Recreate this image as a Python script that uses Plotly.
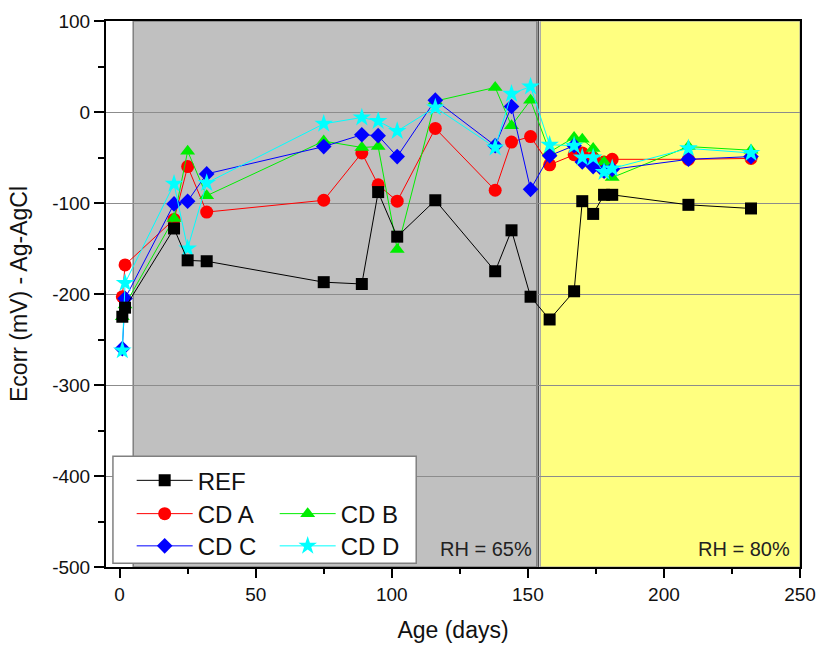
import plotly.graph_objects as go

# ---- data ----
age_days = [1, 2, 20, 25, 32, 75, 89, 95, 102, 116, 138, 144, 151, 158, 167, 170, 174, 178, 181, 209, 232]
ref_mv = [-225, -215, -128, -163, -164, -187, -189, -88, -137, -97, -175, -130, -203, -228, -197, -98, -112, -91, -91, -102, -106]
cd_a_mv = [-203, -168, -118, -60, -110, -97, -45, -80, -98, -18, -86, -33, -27, -58, -47, -45, -50, -55, -52, -52, -51]
cd_b_mv = [-225, -212, -117, -43, -92, -32, -39, -38, -151, 12, 27, -15, 13, -44, -28, -30, -40, -55, -72, -38, -42]
cd_c_mv = [-260, -205, -101, -98, -68, -38, -25, -26, -49, 13, -37, 6, -85, -48, -37, -55, -60, -65, -63, -52, -49]
cd_d_mv = [-262, -188, -79, -150, -78, -13, -6, -10, -21, 5, -39, 20, 28, -36, -37, -50, -50, -66, -62, -40, -45]

x_ticks = [0, 50, 100, 150, 200, 250]
y_ticks = [-500, -400, -300, -200, -100, 0, 100]
y_tick_labels = [str(v) for v in y_ticks]
rh65_span = [5, 153.3]
rh80_span = [154.6, 250]
rh_labels = ["RH = 65%", "RH = 80%"]

FONT = "Liberation Sans, Arial, sans-serif"

series = [
    ("CD A", cd_a_mv, "#FF0000", "circle", 13, "legend2"),
    ("CD B", cd_b_mv, "#00EE00", "triangle-up", 13, "legend2"),
    ("CD C", cd_c_mv, "#0000FF", "diamond", 12, "legend3"),
    ("CD D", cd_d_mv, "#00FFFF", "star", 14, "legend3"),
    ("REF", ref_mv, "#000000", "square", 12, "legend"),
]

fig = go.Figure()
for name, vals, col, sym, sz, lg in series:
    fig.add_trace(go.Scatter(
        x=age_days, y=vals, name=name, mode="lines+markers",
        line=dict(color=col, width=1),
        marker=dict(symbol=sym, size=sz, color=col, line=dict(width=0)),
        legend=lg, showlegend=True,
    ))

shapes = [
    dict(type="rect", xref="x", yref="y", x0=rh65_span[0], x1=rh65_span[1], y0=-500, y1=100,
         fillcolor="#C0C0C0", line=dict(color="#808080", width=1.5), layer="below"),
    dict(type="rect", xref="x", yref="y", x0=rh80_span[0], x1=rh80_span[1], y0=-500, y1=100,
         fillcolor="#FFFF80", line=dict(color="#A0A0A0", width=1), layer="below"),
    dict(type="line", xref="x", yref="y", x0=153.9, x1=153.9, y0=-500, y1=100,
         line=dict(color="#505050", width=1.5), layer="below"),
    # legend box
    dict(type="rect", xref="paper", yref="paper", x0=0.010, x1=0.447, y0=0.007, y1=0.203,
         fillcolor="white", line=dict(color="#808080", width=1.5), layer="above"),
]

annotations = [
    dict(x=rh65_span[1] - 1, y=-500, xref="x", yref="y", text=rh_labels[0], showarrow=False,
         xanchor="right", yanchor="bottom", yshift=5, font=dict(family=FONT, size=20, color="#222")),
    dict(x=rh80_span[1] - 3, y=-500, xref="x", yref="y", text=rh_labels[1], showarrow=False,
         xanchor="right", yanchor="bottom", yshift=5, font=dict(family=FONT, size=20, color="#222")),
]

legend_common = dict(bgcolor="rgba(0,0,0,0)", borderwidth=0, font=dict(family=FONT, size=24, color="#111"),
                     xanchor="left", yanchor="middle", itemwidth=56, tracegroupgap=0, visible=True)

fig.update_layout(
    width=821, height=650,
    margin=dict(l=106, r=21, t=21, b=83, autoexpand=False),
    plot_bgcolor="white", paper_bgcolor="white",
    showlegend=True,
    font=dict(family=FONT, size=19, color="#111"),
    shapes=shapes, annotations=annotations,
    legend=dict(x=0.037, y=0.158, **legend_common),
    legend2=dict(x=0.037, y=0.097, orientation="h", entrywidth=72, **legend_common),
    legend3=dict(x=0.037, y=0.038, orientation="h", entrywidth=72, **legend_common),
    xaxis=dict(
        range=[-5, 250], tickvals=x_ticks, ticks="outside", ticklen=9, tickwidth=2, tickcolor="black",
        minor=dict(dtick=25, tick0=0, ticks="outside", ticklen=5, tickwidth=2, tickcolor="black", showgrid=False),
        showline=True, linewidth=2, linecolor="black", mirror=True, showgrid=False, zeroline=False,
        automargin=False,
        title=dict(text="Age (days)", font=dict(family=FONT, size=23, color="#111"), standoff=18),
        tickfont=dict(family=FONT, size=19, color="#111"),
    ),
    yaxis=dict(
        range=[-500, 100], tickvals=y_ticks, ticktext=y_tick_labels, ticks="outside", ticklen=10,
        tickwidth=2, tickcolor="black",
        minor=dict(dtick=50, tick0=0, ticks="outside", ticklen=6, tickwidth=2, tickcolor="black", showgrid=False),
        showline=True, linewidth=2, linecolor="black", mirror=True,
        showgrid=True, gridcolor="#8C8C8C", gridwidth=1, zeroline=False,
        automargin=False,
        title=dict(text="Ecorr (mV) - Ag-AgCl", font=dict(family=FONT, size=23, color="#111"), standoff=18),
        tickfont=dict(family=FONT, size=19, color="#111"),
    ),
)

fig.write_html(
    "out.html",
    config={"displayModeBar": False},
    post_script="document.body.style.margin='0';document.body.style.overflow='hidden';",
)
